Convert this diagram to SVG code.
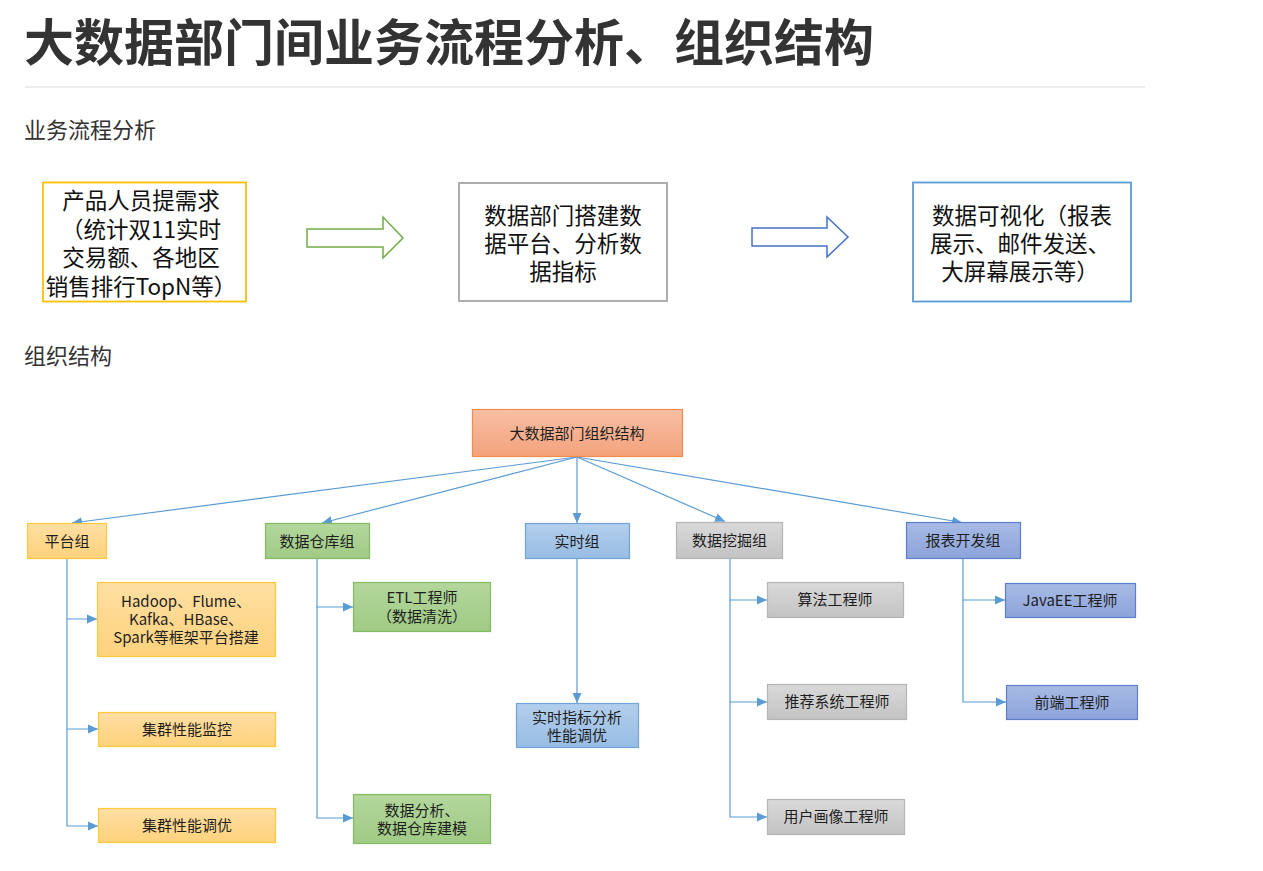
<svg xmlns="http://www.w3.org/2000/svg" width="1263" height="871" viewBox="0 0 1263 871">
<style>
text{font-family:"Noto Sans CJK SC","Liberation Sans",sans-serif;fill:#222}
.title{font-size:50px;font-weight:bold;fill:#333}
.sub{font-size:22px;fill:#333}
.flow{font-size:22.5px;fill:#111;text-anchor:middle}
.lbl{font-size:15px;text-anchor:middle;fill:#1e1e1e}
.sm{font-size:15px;text-anchor:middle;fill:#1e1e1e}
.conn{fill:none;stroke:#5B9BD5;stroke-width:1.2}
</style>
<defs>
<marker id="ah" viewBox="0 0 10 10" refX="10" refY="5" markerWidth="10" markerHeight="10" markerUnits="userSpaceOnUse" orient="auto">
<path d="M0 0.5L10 5L0 9.5Z" fill="#5B9BD5"/>
</marker>
<linearGradient id="gOr" x1="0" y1="0" x2="0" y2="1"><stop offset="0" stop-color="#FFDFA3"/><stop offset="1" stop-color="#FFD27C"/></linearGradient>
<linearGradient id="gGr" x1="0" y1="0" x2="0" y2="1"><stop offset="0" stop-color="#B4D79D"/><stop offset="1" stop-color="#9FCA84"/></linearGradient>
<linearGradient id="gBl" x1="0" y1="0" x2="0" y2="1"><stop offset="0" stop-color="#B3CFEC"/><stop offset="1" stop-color="#97BCE4"/></linearGradient>
<linearGradient id="gGy" x1="0" y1="0" x2="0" y2="1"><stop offset="0" stop-color="#D9D9D9"/><stop offset="1" stop-color="#C3C3C3"/></linearGradient>
<linearGradient id="gPu" x1="0" y1="0" x2="0" y2="1"><stop offset="0" stop-color="#A8BBE5"/><stop offset="1" stop-color="#8CA3DA"/></linearGradient>
<linearGradient id="gSa" x1="0" y1="0" x2="0" y2="1"><stop offset="0" stop-color="#F7BFA4"/><stop offset="1" stop-color="#F4A27C"/></linearGradient>
<clipPath id="clip3"><rect x="913" y="182" width="203" height="120"/></clipPath>
</defs>

<g id="header">
<text class="title" x="24" y="61">大数据部门间业务流程分析、组织结构</text>
<line x1="25" y1="87" x2="1145" y2="87" stroke="#e6e6e6" stroke-width="1.5"/>
<text class="sub" x="24" y="138">业务流程分析</text>
<text class="sub" x="24" y="364">组织结构</text>
</g>

<g id="flow-demand">
<rect x="43" y="182.5" width="203" height="119" fill="#fff" stroke="#FFC000" stroke-width="1.8"/>
<text class="flow" x="141" y="209">产品人员提需求</text>
<text class="flow" x="141" y="237.5">（统计双11实时</text>
<text class="flow" x="141" y="266">交易额、各地区</text>
<text class="flow" x="141" y="294.5">销售排行TopN等）</text>
</g>
<g id="flow-platform">
<rect x="459" y="183" width="208" height="118" fill="#fff" stroke="#A6A6A6" stroke-width="1.8"/>
<text class="flow" x="563" y="224">数据部门搭建数</text>
<text class="flow" x="563" y="252">据平台、分析数</text>
<text class="flow" x="563" y="280">据指标</text>
</g>
<g id="flow-visual">
<rect x="913" y="182.5" width="218" height="119" fill="#fff" stroke="#5B9BD5" stroke-width="1.8"/>
<g clip-path="url(#clip3)">
<text class="flow" x="1022" y="224">数据可视化（报表</text>
</g>
<text class="flow" x="1020" y="252">展示、邮件发送、</text>
<text class="flow" x="1020" y="280">大屏幕展示等）</text>
</g>
<g id="flow-arrows">
<polygon points="307,229 383,229 383,217 403,238 383,258 383,247 307,247" fill="#fff" stroke="#70AD47" stroke-width="1.5"/>
<polygon points="752,228 827,228 827,217 848,237 827,257 827,246 752,246" fill="#fff" stroke="#4472C4" stroke-width="1.5"/>
</g>

<g id="connectors">
<path class="conn" d="M577 457L72 523" marker-end="url(#ah)"/>
<path class="conn" d="M577 457L322 523" marker-end="url(#ah)"/>
<path class="conn" d="M577 457L577 523" marker-end="url(#ah)"/>
<path class="conn" d="M577 457L725 521.5" marker-end="url(#ah)"/>
<path class="conn" d="M577 457L962 522.5" marker-end="url(#ah)"/>
<path class="conn" d="M67 559V619H97" marker-end="url(#ah)"/>
<path class="conn" d="M67 619V729H98" marker-end="url(#ah)"/>
<path class="conn" d="M67 729V826H98" marker-end="url(#ah)"/>
<path class="conn" d="M317 559V607H353" marker-end="url(#ah)"/>
<path class="conn" d="M317 607V818H353" marker-end="url(#ah)"/>
<path class="conn" d="M577 559V703" marker-end="url(#ah)"/>
<path class="conn" d="M730 559V600H767" marker-end="url(#ah)"/>
<path class="conn" d="M730 600V702H767" marker-end="url(#ah)"/>
<path class="conn" d="M730 702V817H767" marker-end="url(#ah)"/>
<path class="conn" d="M963 559V600H1005" marker-end="url(#ah)"/>
<path class="conn" d="M963 600V702H1006" marker-end="url(#ah)"/>
</g>

<g id="org-root">
<rect x="472.5" y="409.5" width="210" height="47" fill="url(#gSa)" stroke="#F08C4E" stroke-width="1.2"/>
<text class="lbl" x="577" y="438.5">大数据部门组织结构</text>
</g>

<g id="grp-platform">
<rect x="27.5" y="523.5" width="79" height="35" fill="url(#gOr)" stroke="#FFC83D" stroke-width="1.2"/>
<text class="lbl" x="67" y="546.5">平台组</text>
</g>
<g id="grp-warehouse">
<rect x="265.5" y="523.5" width="104" height="35" fill="url(#gGr)" stroke="#82BB62" stroke-width="1.2"/>
<text class="lbl" x="317" y="546.5">数据仓库组</text>
</g>
<g id="grp-realtime">
<rect x="525.5" y="523.5" width="104" height="35" fill="url(#gBl)" stroke="#6FA4D8" stroke-width="1.2"/>
<text class="lbl" x="577" y="546.5">实时组</text>
</g>
<g id="grp-mining">
<rect x="676.5" y="522.5" width="106" height="36" fill="url(#gGy)" stroke="#B4B4B4" stroke-width="1.2"/>
<text class="lbl" x="729.5" y="546">数据挖掘组</text>
</g>
<g id="grp-report">
<rect x="906.5" y="522.5" width="114" height="36" fill="url(#gPu)" stroke="#5B7FC9" stroke-width="1.2"/>
<text class="lbl" x="963" y="546">报表开发组</text>
</g>

<g id="n-hadoop">
<rect x="97.5" y="582.5" width="178" height="74" fill="url(#gOr)" stroke="#FFC83D" stroke-width="1.2"/>
<text class="sm" x="186" y="607">Hadoop、Flume、</text>
<text class="sm" x="186" y="625">Kafka、HBase、</text>
<text class="sm" x="186" y="643">Spark等框架平台搭建</text>
</g>
<g id="n-monitor">
<rect x="98.5" y="712.5" width="177" height="34" fill="url(#gOr)" stroke="#FFC83D" stroke-width="1.2"/>
<text class="sm" x="187" y="735">集群性能监控</text>
</g>
<g id="n-tune">
<rect x="98.5" y="808.5" width="177" height="34" fill="url(#gOr)" stroke="#FFC83D" stroke-width="1.2"/>
<text class="sm" x="187" y="831">集群性能调优</text>
</g>
<g id="n-etl">
<rect x="353.5" y="582.5" width="137" height="49" fill="url(#gGr)" stroke="#82BB62" stroke-width="1.2"/>
<text class="sm" x="422" y="603">ETL工程师</text>
<text class="sm" x="422" y="622">（数据清洗）</text>
</g>
<g id="n-model">
<rect x="353.5" y="794.5" width="137" height="49" fill="url(#gGr)" stroke="#82BB62" stroke-width="1.2"/>
<text class="sm" x="422" y="816">数据分析、</text>
<text class="sm" x="422" y="834">数据仓库建模</text>
</g>
<g id="n-rt">
<rect x="516.5" y="703.5" width="122" height="44" fill="url(#gBl)" stroke="#6FA4D8" stroke-width="1.2"/>
<text class="sm" x="577" y="723">实时指标分析</text>
<text class="sm" x="577" y="741">性能调优</text>
</g>
<g id="n-algo">
<rect x="767.5" y="582.5" width="136" height="35" fill="url(#gGy)" stroke="#B4B4B4" stroke-width="1.2"/>
<text class="sm" x="835" y="605">算法工程师</text>
</g>
<g id="n-rec">
<rect x="767.5" y="684.5" width="139" height="35" fill="url(#gGy)" stroke="#B4B4B4" stroke-width="1.2"/>
<text class="sm" x="837" y="707">推荐系统工程师</text>
</g>
<g id="n-profile">
<rect x="767.5" y="799.5" width="137" height="35" fill="url(#gGy)" stroke="#B4B4B4" stroke-width="1.2"/>
<text class="sm" x="836" y="822">用户画像工程师</text>
</g>
<g id="n-javaee">
<rect x="1005.5" y="583.5" width="130" height="34" fill="url(#gPu)" stroke="#5B7FC9" stroke-width="1.2"/>
<text class="sm" x="1070" y="606">JavaEE工程师</text>
</g>
<g id="n-frontend">
<rect x="1006.5" y="685.5" width="131" height="34" fill="url(#gPu)" stroke="#5B7FC9" stroke-width="1.2"/>
<text class="sm" x="1072" y="708">前端工程师</text>
</g>
</svg>
